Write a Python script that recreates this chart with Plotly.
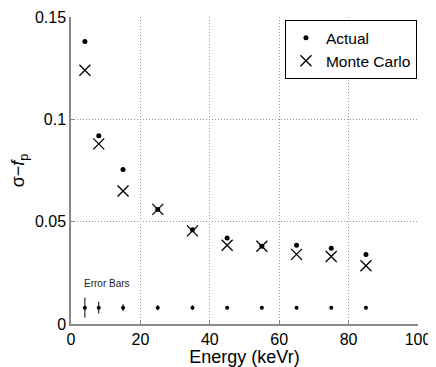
import plotly.graph_objects as go

# Energy bins (keVr)
energy = [4, 8, 15, 25, 35, 45, 55, 65, 75, 85]

# sigma - f_p values
actual = [0.138, 0.092, 0.0755, 0.056, 0.046, 0.042, 0.038, 0.0385, 0.037, 0.034]
monte_carlo = [0.124, 0.088, 0.065, 0.056, 0.0455, 0.0385, 0.038, 0.034, 0.033, 0.0285]

# error bar illustration (drawn at a fixed baseline)
err_base = [0.008] * 10
err_size = [0.0049, 0.0029, 0.0017, 0.0013, 0.0011, 0.0008, 0.0008, 0.0008, 0.0008, 0.0008]

fig = go.Figure()

fig.add_trace(go.Scatter(
    x=energy, y=err_base, mode='markers', showlegend=False,
    marker=dict(color='black', size=4),
    error_y=dict(type='data', array=err_size, color='black', thickness=1, width=0),
))

fig.add_trace(go.Scatter(
    x=energy, y=actual, mode='markers', name='Actual',
    marker=dict(color='black', size=5, symbol='circle'),
))

fig.add_trace(go.Scatter(
    x=energy, y=monte_carlo, mode='markers', name='Monte Carlo',
    marker=dict(symbol='x-thin-open', size=11, color='black',
                line=dict(color='black', width=1.3)),
))

fig.add_annotation(x=3.2, y=0.0198, text='Error Bars', showarrow=False,
                   xanchor='left', font=dict(size=10, color='#222'))

# the page body adds an 8px margin, so the figure is sized/offset to fit the window
fig.update_layout(
    width=428, height=359,
    margin=dict(l=63, r=18, t=9, b=43, autoexpand=False),
    plot_bgcolor='white', paper_bgcolor='white',
    font=dict(family='Liberation Sans, Arial', color='black', size=16),
    legend=dict(
        x=0.997, y=0.99, xanchor='right', yanchor='top',
        bordercolor='black', borderwidth=1, bgcolor='white',
        font=dict(size=15.5), itemwidth=30, tracegroupgap=0,
    ),
)

grid_style = dict(showgrid=True, gridcolor='#999999', griddash='1px,2px', gridwidth=1,
                  showline=True, linecolor='#888888', linewidth=1.5,
                  ticks='inside', ticklen=4, tickcolor='#888888',
                  zeroline=False, automargin=False, ticklabeloverflow='allow')

fig.update_xaxes(
    range=[0, 100], tickvals=[0, 20, 40, 60, 80, 100],
    title=dict(text='Energy (keVr)', font=dict(size=18), standoff=4),
    **grid_style,
)
fig.update_yaxes(
    range=[0, 0.15], tickvals=[0, 0.05, 0.1, 0.15], ticktext=['0', '0.05', '0.1', '0.15'],
    title=dict(text='σ−<i>f</i><sub>p</sub>', font=dict(size=18), standoff=15),
    **grid_style,
)

fig.write_html("out.html")
